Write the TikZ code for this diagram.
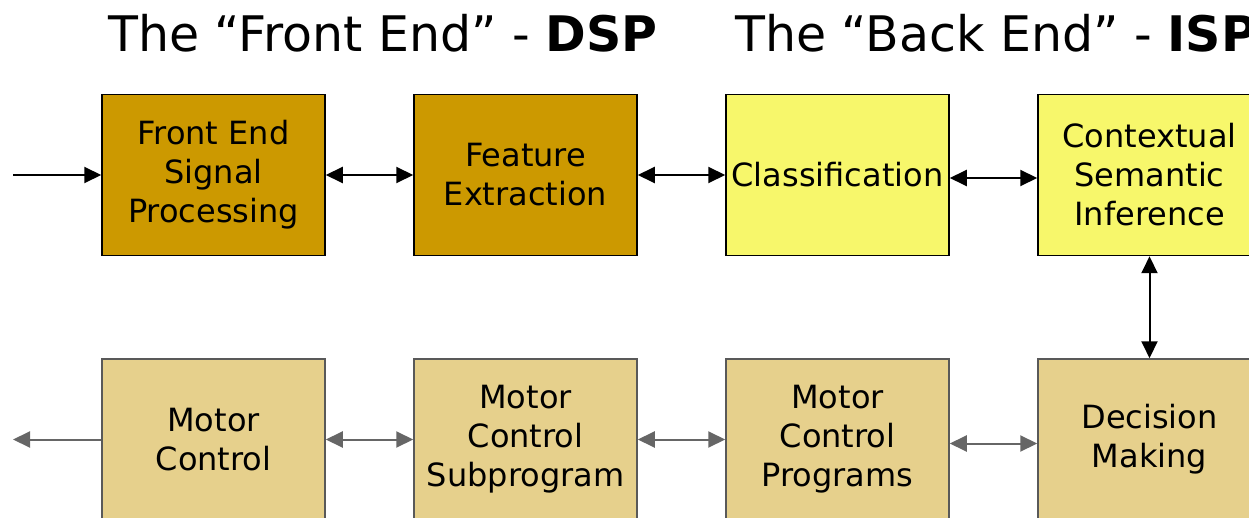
\documentclass[tikz,border=0pt]{standalone}
\usepackage{fontspec}
\setmainfont{DejaVu Sans}
\usetikzlibrary{arrows.meta}
\definecolor{dsp}{HTML}{CC9900}
\definecolor{isp}{HTML}{F7F76B}
\definecolor{tan}{HTML}{E6D08C}
\definecolor{greyline}{HTML}{666666}
\tikzset{
  blk/.style={minimum width=223pt, minimum height=161pt, inner sep=0pt, line width=1.5pt, align=center,
    font=\fontsize{32}{39}\selectfont},
  topdark/.style={blk, fill=dsp, draw=black},
  topyel/.style={blk, fill=isp, draw=black},
  botbox/.style={blk, fill=tan, draw=black!65},
  arr/.style={line width=2pt, -{Triangle[length=17pt,width=16pt]}},
  darr/.style={line width=2pt, {Triangle[length=17pt,width=16pt]}-{Triangle[length=17pt,width=16pt]}},
  grey/.style={draw=greyline},
  ttl/.style={anchor=base west, inner sep=0pt, font=\fontsize{49}{60}\selectfont}
}
\begin{document}
\begin{tikzpicture}[x=1pt,y=-1pt]
\useasboundingbox (0,0) rectangle (1249,518);
\clip (0,0) rectangle (1249,518);
\node[ttl] (t1) at (108,52) {The “Front End” - \textbf{DSP}};
\node[ttl] (t2) at (735,52) {The “Back End” - \textbf{ISP}};

\node[topdark] (a1) at (213.5,175) {Front End\\Signal\\Processing};
\node[topdark] (a2) at (525.5,175) {Feature\\Extraction};
\node[topyel] (a3) at (837.5,175) {Classification};
\node[topyel] (a4) at (1149.5,175) {Contextual\\Semantic\\Inference};

\node[botbox] (b1) at (213.5,439.5) {Motor\\Control};
\node[botbox] (b2) at (525.5,439.5) {Motor\\Control\\Subprogram};
\node[botbox] (b3) at (837.5,439.5) {Motor\\Control\\Programs};
\node[botbox] (b4) at (1149.5,439.5) {Decision\\Making};

\coordinate (in) at (13,175);
\coordinate (out) at (13,439.5);

\draw[arr] (in) -- (a1.west);
\draw[darr] (a1.east) -- (a2.west);
\draw[darr] (a2.east) -- (a3.west);
\draw[darr] ([yshift=-3pt]a3.east) -- ([yshift=-3pt]a4.west);
\draw[darr] (a4.south) -- (b4.north);

\draw[arr, grey] (b1.west) -- (out);
\draw[darr, grey] (b1.east) -- (b2.west);
\draw[darr, grey] (b2.east) -- (b3.west);
\draw[darr, grey] ([yshift=-4pt]b3.east) -- ([yshift=-4pt]b4.west);
\end{tikzpicture}
\end{document}
